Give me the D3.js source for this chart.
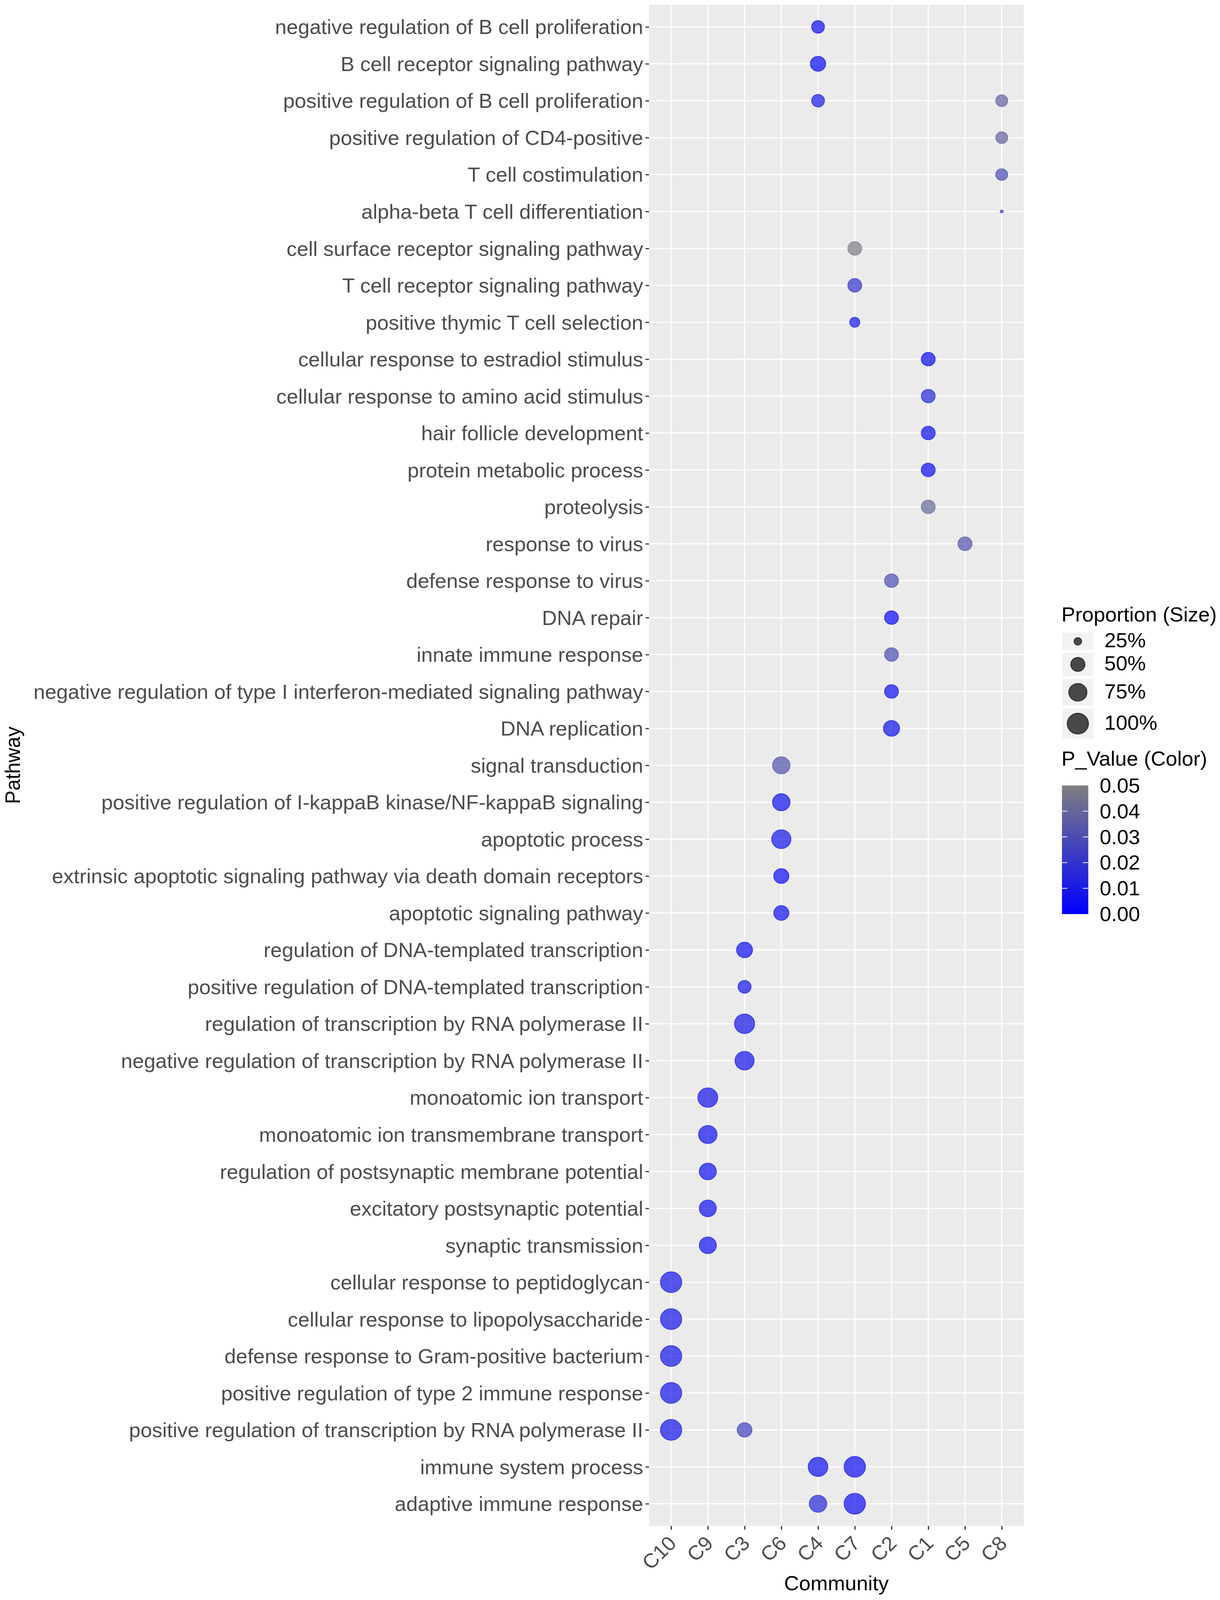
<!DOCTYPE html>
<html>
<head>
<meta charset="utf-8">
<script src="https://cdn.jsdelivr.net/npm/d3@7"></script>
<style>
  html, body { margin: 0; padding: 0; background: #fff; overflow: hidden; }
  svg { display: block; width: 100vw; height: 100vh; font-family: "Liberation Sans", Arial, Helvetica, sans-serif; }
</style>
</head>
<body>
<div id="chart"></div>
<script>
// categories
const communities = ["C10", "C9", "C3", "C6", "C4", "C7", "C2", "C1", "C5", "C8"];
const pathways = [
  "negative regulation of B cell proliferation",
  "B cell receptor signaling pathway",
  "positive regulation of B cell proliferation",
  "positive regulation of CD4-positive",
  "T cell costimulation",
  "alpha-beta T cell differentiation",
  "cell surface receptor signaling pathway",
  "T cell receptor signaling pathway",
  "positive thymic T cell selection",
  "cellular response to estradiol stimulus",
  "cellular response to amino acid stimulus",
  "hair follicle development",
  "protein metabolic process",
  "proteolysis",
  "response to virus",
  "defense response to virus",
  "DNA repair",
  "innate immune response",
  "negative regulation of type I interferon-mediated signaling pathway",
  "DNA replication",
  "signal transduction",
  "positive regulation of I-kappaB kinase/NF-kappaB signaling",
  "apoptotic process",
  "extrinsic apoptotic signaling pathway via death domain receptors",
  "apoptotic signaling pathway",
  "regulation of DNA-templated transcription",
  "positive regulation of DNA-templated transcription",
  "regulation of transcription by RNA polymerase II",
  "negative regulation of transcription by RNA polymerase II",
  "monoatomic ion transport",
  "monoatomic ion transmembrane transport",
  "regulation of postsynaptic membrane potential",
  "excitatory postsynaptic potential",
  "synaptic transmission",
  "cellular response to peptidoglycan",
  "cellular response to lipopolysaccharide",
  "defense response to Gram-positive bacterium",
  "positive regulation of type 2 immune response",
  "positive regulation of transcription by RNA polymerase II",
  "immune system process",
  "adaptive immune response"
];

// one entry per dot: pathway row (index into pathways), community, proportion (%), p value
const dotRow = [0, 1, 2, 2, 3, 4, 5, 6, 7, 8, 9, 10, 11, 12, 13, 14, 15, 16, 17, 18, 19,
  20, 21, 22, 23, 24, 25, 26, 27, 28, 29, 30, 31, 32, 33, 34, 35, 36, 37, 38, 38, 39, 39, 40, 40];
const dotCommunity = ["C4", "C4", "C4", "C8", "C8", "C8", "C8", "C7", "C7", "C7", "C1", "C1", "C1", "C1", "C1",
  "C5", "C2", "C2", "C2", "C2", "C2", "C6", "C6", "C6", "C6", "C6", "C3", "C3", "C3", "C3",
  "C9", "C9", "C9", "C9", "C9", "C10", "C10", "C10", "C10", "C10", "C3", "C4", "C7", "C4", "C7"];
const dotProportion = [43, 56, 43, 39, 39, 39, 20, 48, 48, 32, 48, 48, 48, 48, 48,
  49, 48, 48, 48, 48, 61, 70, 70, 83, 55, 55, 60, 44, 90, 82,
  88, 77, 67, 67, 67, 100, 100, 100, 100, 100, 53, 86, 100, 70, 100];
const dotPValue = [0.005, 0.003, 0.010, 0.038, 0.038, 0.030, 0.025, 0.048, 0.020, 0.008, 0.004, 0.014, 0.005, 0.003, 0.040,
  0.032, 0.030, 0.002, 0.030, 0.005, 0.006, 0.032, 0.006, 0.008, 0.004, 0.006, 0.005, 0.007, 0.008, 0.007,
  0.007, 0.006, 0.006, 0.006, 0.006, 0.008, 0.008, 0.008, 0.008, 0.008, 0.025, 0.006, 0.005, 0.015, 0.005];

// legend breaks
const sizeBreaks = [25, 50, 75, 100];
const sizeLabels = ["25%", "50%", "75%", "100%"];
const colorBreaks = [0, 0.01, 0.02, 0.03, 0.04, 0.05];

const width = 3124;
const height = 4197;
const panel = { left: 1662, right: 2621.5, top: 12.4, bottom: 4002.6 };
const fontSize = 53;

const dots = dotRow.map((r, i) => ({
  pathway: pathways[r],
  community: dotCommunity[i],
  proportion: dotProportion[i],
  p: dotPValue[i]
}));

const x = d3.scalePoint().domain(communities).range([panel.left, panel.right]).padding(0.6);
const y = d3.scalePoint().domain(pathways).range([panel.top, panel.bottom]).padding(0.6);

// ggplot-like area scale: rescale to [0,1] then sqrt into the diameter range
const propScale = d3.scaleLinear().domain([20, 100]).range([0, 1]).clamp(true);
const diam = d3.scaleSqrt().domain([0, 1]).range([10, 56.7]);
const color = d3.scaleLinear().domain([0, 0.05]).range(["#0000FF", "#7F7F7F"]).interpolate(d3.interpolateRgb);

const svg = d3.select("#chart").append("svg")
  .attr("viewBox", [0, 0, width, height])
  .attr("preserveAspectRatio", "none");

// panel background
svg.append("rect")
  .attr("x", panel.left)
  .attr("y", panel.top)
  .attr("width", panel.right - panel.left)
  .attr("height", panel.bottom - panel.top)
  .attr("fill", "#EBEBEB");

// grid
const grid = svg.append("g").attr("stroke", "#fff").attr("stroke-width", 3);
grid.selectAll(".gx").data(communities).join("line")
  .attr("x1", d => x(d)).attr("x2", d => x(d))
  .attr("y1", panel.top).attr("y2", panel.bottom);
grid.selectAll(".gy").data(pathways).join("line")
  .attr("y1", d => y(d)).attr("y2", d => y(d))
  .attr("x1", panel.left).attr("x2", panel.right);

// dots
svg.append("g")
  .selectAll("circle")
  .data(dots)
  .join("circle")
  .attr("cx", d => x(d.community))
  .attr("cy", d => y(d.pathway))
  .attr("r", d => diam(propScale(d.proportion)) / 2 - 1)
  .attr("fill", d => color(d.p))
  .attr("stroke", d => color(d.p))
  .attr("stroke-width", 2)
  .attr("fill-opacity", 0.7)
  .attr("stroke-opacity", 0.7);

// y axis
const yAxis = svg.append("g")
  .attr("transform", `translate(${panel.left},0)`)
  .call(d3.axisLeft(y).tickSize(9).tickPadding(6));
yAxis.select(".domain").remove();
yAxis.selectAll(".tick line").attr("stroke", "#333333").attr("stroke-width", 3);
yAxis.selectAll(".tick text")
  .attr("fill", "#4D4D4D")
  .attr("font-size", fontSize)
  .attr("font-family", null)
  .attr("dy", "0.35em");

// x axis
const xAxis = svg.append("g")
  .attr("transform", `translate(0,${panel.bottom})`)
  .call(d3.axisBottom(x).tickSize(10));
xAxis.select(".domain").remove();
xAxis.selectAll(".tick line").attr("stroke", "#333333").attr("stroke-width", 3);
xAxis.selectAll(".tick text")
  .attr("fill", "#4D4D4D")
  .attr("font-size", fontSize)
  .attr("font-family", null)
  .attr("text-anchor", "end")
  .attr("y", 0)
  .attr("dy", "0.72em")
  .attr("transform", "translate(-11,22) rotate(-45)");

// axis titles
svg.append("text")
  .attr("x", (panel.left + panel.right) / 2)
  .attr("y", 4171)
  .attr("text-anchor", "middle")
  .attr("font-size", fontSize)
  .attr("fill", "#000")
  .text("Community");

svg.append("text")
  .attr("transform", `translate(51,${(panel.top + panel.bottom) / 2}) rotate(-90)`)
  .attr("text-anchor", "middle")
  .attr("font-size", fontSize)
  .attr("fill", "#000")
  .text("Pathway");

// size legend
const legendX = 2720;
const sizeLegend = svg.append("g");
sizeLegend.append("text")
  .attr("x", legendX - 2)
  .attr("y", 1630)
  .attr("font-size", fontSize)
  .attr("fill", "#000")
  .text("Proportion (Size)");

let keyY = 1659.3;
sizeBreaks.forEach((v, i) => {
  const d = diam(propScale(v));
  const h = Math.max(46, d + 22.5);
  sizeLegend.append("rect")
    .attr("x", legendX)
    .attr("y", keyY)
    .attr("width", 80)
    .attr("height", h)
    .attr("fill", "#F2F2F2");
  sizeLegend.append("circle")
    .attr("cx", legendX + 40)
    .attr("cy", keyY + h / 2)
    .attr("r", d / 2 - 1)
    .attr("fill", "#000")
    .attr("stroke", "#000")
    .attr("stroke-width", 2)
    .attr("fill-opacity", 0.7)
    .attr("stroke-opacity", 0.7);
  sizeLegend.append("text")
    .attr("x", 2828)
    .attr("y", keyY + h / 2)
    .attr("dy", "0.3em")
    .attr("font-size", fontSize)
    .attr("fill", "#000")
    .text(sizeLabels[i]);
  keyY += h + 7;
});

// colour bar legend
const barTop = 2060.3;
const barBottom = 2397.7;
const barX = 2719.3;
const barW = 67.4;
const yBar = d3.scaleLinear().domain([0, 0.05]).range([barBottom, barTop]);

const defs = svg.append("defs");
const grad = defs.append("linearGradient")
  .attr("id", "pgrad")
  .attr("x1", 0).attr("y1", 1)
  .attr("x2", 0).attr("y2", 0);
d3.range(0, 1.0001, 0.1).forEach(t => {
  grad.append("stop")
    .attr("offset", t)
    .attr("stop-color", color(t * 0.05));
});

const colorLegend = svg.append("g");
colorLegend.append("text")
  .attr("x", legendX - 2)
  .attr("y", 2008.3)
  .attr("font-size", fontSize)
  .attr("fill", "#000")
  .text("P_Value (Color)");

colorLegend.append("rect")
  .attr("x", barX)
  .attr("y", barTop)
  .attr("width", barW)
  .attr("height", barBottom - barTop)
  .attr("fill", "url(#pgrad)");

const innerTicks = colorBreaks.filter(v => v > 0 && v < 0.05);
colorLegend.selectAll(".tl").data(innerTicks).join("line")
  .attr("x1", barX).attr("x2", barX + barW / 5)
  .attr("y1", d => yBar(d)).attr("y2", d => yBar(d))
  .attr("stroke", "#fff").attr("stroke-width", 2);
colorLegend.selectAll(".tr").data(innerTicks).join("line")
  .attr("x1", barX + barW - barW / 5).attr("x2", barX + barW)
  .attr("y1", d => yBar(d)).attr("y2", d => yBar(d))
  .attr("stroke", "#fff").attr("stroke-width", 2);

colorLegend.selectAll(".cl").data(colorBreaks).join("text")
  .attr("x", 2816)
  .attr("y", d => yBar(d))
  .attr("dy", "0.35em")
  .attr("font-size", fontSize)
  .attr("fill", "#000")
  .text(d => d3.format(".2f")(d));
</script>
</body>
</html>
